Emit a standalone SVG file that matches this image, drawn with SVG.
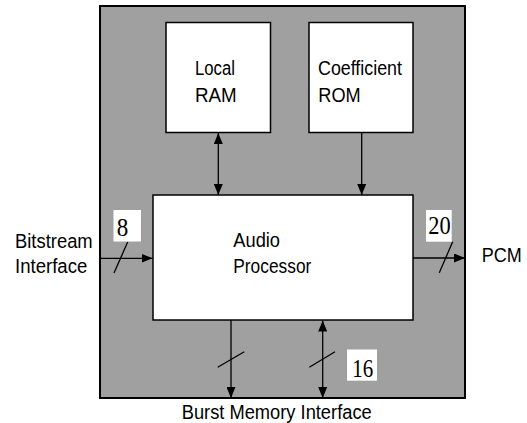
<svg xmlns="http://www.w3.org/2000/svg" width="527" height="423" viewBox="0 0 527 423">
<style>
.lbl{font-family:"Liberation Sans",Arial,sans-serif;font-size:20px;fill:#000}
.num{font-family:"Liberation Serif","Times New Roman",serif;font-size:25.5px;fill:#000}
.box{fill:#fff;stroke:#000;stroke-width:1.5}
.wire{stroke:#000;stroke-width:1.3;fill:none}
.tag{fill:#fff;stroke:none}
</style>
<defs>
<marker id="ah" markerUnits="userSpaceOnUse" markerWidth="11" markerHeight="9" refX="11" refY="4.5" orient="auto-start-reverse">
<path d="M0,0 L11,4.5 L0,9 z" fill="#000"/>
</marker>
</defs>
<g id="chip">
<rect x="100" y="6" width="365" height="392" fill="#a0a0a0" stroke="#000" stroke-width="2"/>
</g>
<g id="local-ram">
<rect class="box" x="166" y="22.5" width="104.5" height="110"/>
<text class="lbl" x="195" y="75" textLength="40" lengthAdjust="spacingAndGlyphs">Local</text>
<text class="lbl" x="195" y="101.7" textLength="41.7" lengthAdjust="spacingAndGlyphs">RAM</text>
</g>
<g id="coefficient-rom">
<rect class="box" x="309" y="22.5" width="104" height="110"/>
<text class="lbl" x="318" y="75" textLength="84" lengthAdjust="spacingAndGlyphs">Coefficient</text>
<text class="lbl" x="318.3" y="101.7" textLength="42.4" lengthAdjust="spacingAndGlyphs">ROM</text>
</g>
<g id="audio-processor">
<rect class="box" x="153" y="195" width="260" height="125"/>
<text class="lbl" x="233.3" y="247.3" textLength="46.7" lengthAdjust="spacingAndGlyphs">Audio</text>
<text class="lbl" x="233.3" y="273.3" textLength="78" lengthAdjust="spacingAndGlyphs">Processor</text>
</g>
<g id="connectors">
<line class="wire" x1="218.3" y1="133" x2="218.3" y2="195" marker-start="url(#ah)" marker-end="url(#ah)"/>
<line class="wire" x1="361.7" y1="133" x2="361.7" y2="195" marker-end="url(#ah)"/>
<line class="wire" x1="100" y1="258.3" x2="152.5" y2="258.3" marker-end="url(#ah)"/>
<line class="wire" x1="413" y1="258" x2="465" y2="258" marker-end="url(#ah)"/>
<line class="wire" x1="231" y1="320" x2="231" y2="398" marker-end="url(#ah)"/>
<line class="wire" x1="322.7" y1="320.5" x2="322.7" y2="398" marker-start="url(#ah)" marker-end="url(#ah)"/>
<line class="wire" x1="114" y1="273" x2="127.7" y2="242"/>
<line class="wire" x1="439.3" y1="272.7" x2="452.7" y2="241.7"/>
<line class="wire" x1="217.7" y1="367.3" x2="244.3" y2="351.7"/>
<line class="wire" x1="309.3" y1="367.3" x2="335" y2="351.7"/>
<rect class="tag" x="113.5" y="210" width="27.5" height="31.5"/>
<text class="num" x="116.8" y="235.6" textLength="11.5" lengthAdjust="spacingAndGlyphs">8</text>
<rect class="tag" x="426" y="210" width="25.7" height="31.7"/>
<text class="num" x="428.3" y="234.4" font-size="24" textLength="22.4" lengthAdjust="spacingAndGlyphs">20</text>
<rect class="tag" x="347" y="349.5" width="30" height="31.2"/>
<text class="num" x="352.3" y="377" textLength="21" lengthAdjust="spacingAndGlyphs">16</text>
</g>
<g id="labels">
<text class="lbl" x="15" y="248.3" textLength="77.7" lengthAdjust="spacingAndGlyphs">Bitstream</text>
<text class="lbl" x="15" y="273.3" textLength="72.3" lengthAdjust="spacingAndGlyphs">Interface</text>
<text class="lbl" x="481.7" y="261.7" textLength="40" lengthAdjust="spacingAndGlyphs">PCM</text>
<text class="lbl" x="181.7" y="419" font-size="21" textLength="190" lengthAdjust="spacingAndGlyphs">Burst Memory Interface</text>
</g>
</svg>
